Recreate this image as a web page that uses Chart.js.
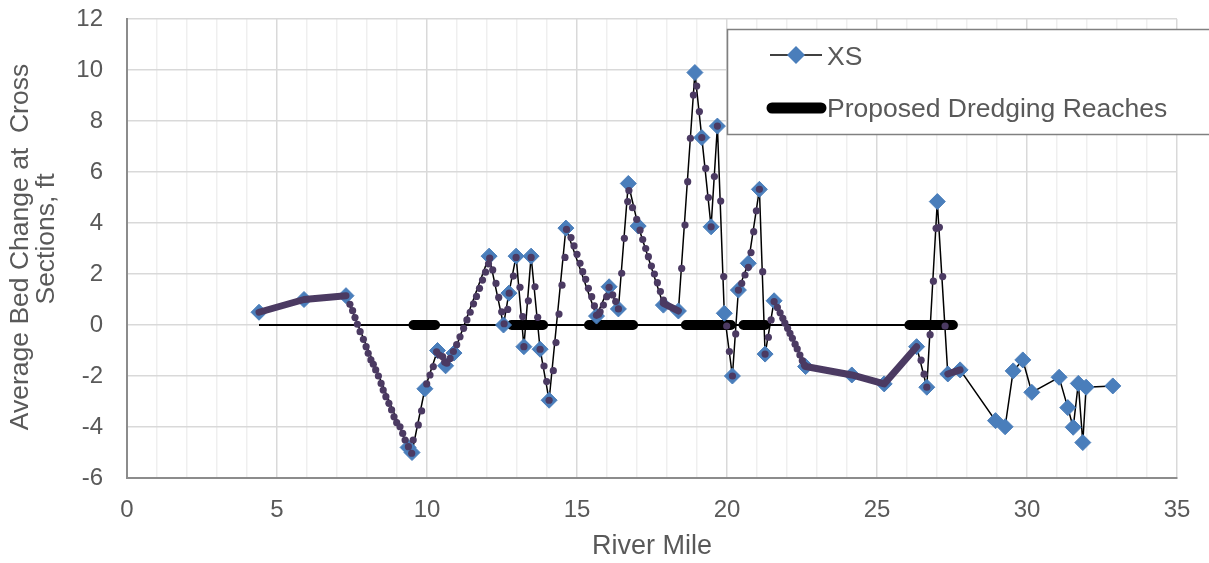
<!DOCTYPE html>
<html>
<head>
<meta charset="utf-8">
<script src="https://cdn.jsdelivr.net/npm/chart.js@4.4.1/dist/chart.umd.min.js"></script>
<style>
  html, body { margin: 0; padding: 0; background: #ffffff; }
  #wrap { width: 1209px; height: 563px; position: relative; }
</style>
</head>
<body>
<div id="wrap"><canvas id="c" width="1209" height="563"></canvas></div>
<script>
// ---- Data ----
const xsMiles = [4.4, 5.9, 7.3, 9.37, 9.5, 9.93, 10.35, 10.62, 10.9, 12.07, 12.55, 12.73, 12.97, 13.23, 13.47, 13.77, 14.07, 14.63, 15.65, 16.07, 16.38, 16.71, 17.04, 17.88, 18.38, 18.93, 19.16, 19.47, 19.68, 19.91, 20.18, 20.38, 20.71, 21.08, 21.27, 21.57, 22.62, 24.16, 25.24, 26.32, 26.66, 27.01, 27.36, 27.77, 28.95, 29.27, 29.54, 29.86, 30.16, 31.07, 31.36, 31.54, 31.71, 31.86, 31.97, 32.86];
const xsValues = [0.5, 1.0, 1.15, -4.8, -5.0, -2.5, -1.0, -1.6, -1.1, 2.7, 0.0, 1.25, 2.7, -0.85, 2.7, -0.95, -2.95, 3.8, 0.35, 1.5, 0.63, 5.55, 3.88, 0.78, 0.55, 9.9, 7.35, 3.85, 7.8, 0.46, -2.0, 1.37, 2.42, 5.32, -1.14, 0.95, -1.63, -1.96, -2.31, -0.85, -2.44, 4.84, -1.92, -1.76, -3.75, -3.99, -1.8, -1.37, -2.64, -2.05, -3.24, -4.01, -2.29, -4.61, -2.44, -2.39];

const dotMiles = [7.43, 7.52, 7.6, 7.68, 7.77, 7.88, 7.97, 8.04, 8.13, 8.21, 8.29, 8.38, 8.47, 8.54, 8.63, 8.73, 8.82, 8.9, 8.99, 9.1, 9.19, 9.27, 9.38, 9.49,
  9.54, 9.71, 9.82, 9.99, 10.1, 10.21, 10.32, 10.41, 10.52, 10.59, 10.66, 10.77, 10.88, 10.99, 11.1, 11.22, 11.33, 11.44, 11.55, 11.65, 11.75, 11.85, 11.95, 12.05, 12.09,
  12.19, 12.3, 12.39, 12.49, 12.57, 12.69, 12.74, 12.88, 12.97, 13.1, 13.19, 13.23, 13.38, 13.47, 13.6, 13.69, 13.77, 13.9, 13.99, 14.07,
  14.21, 14.3, 14.4, 14.5, 14.6, 14.65, 14.8, 14.9, 15.0, 15.1, 15.19, 15.29, 15.38, 15.49, 15.58, 15.65, 15.72, 15.77, 15.88, 15.99, 16.07, 16.19, 16.29, 16.38,
  16.49, 16.58, 16.69, 16.73, 16.85, 16.99, 17.1, 17.19, 17.29, 17.38, 17.48, 17.58, 17.68, 17.78, 17.88,
  18.49, 18.6, 18.69, 18.78, 18.88, 18.99, 19.08, 19.16, 19.29, 19.38, 19.47, 19.58, 19.68, 19.79, 19.89, 19.99, 20.08, 20.18, 20.29, 20.38,
  20.49, 20.6, 20.71, 20.8, 20.89, 20.98, 21.08, 21.19, 21.27, 21.38, 21.47, 21.57, 21.68, 21.77, 21.86, 21.93, 22.02, 22.1, 22.18, 22.27, 22.34, 22.43, 22.51, 22.58,
  26.47, 26.57, 26.66, 26.77, 26.88, 26.97, 27.08, 27.19, 27.27];
const dotValues = [0.81, 0.56, 0.29, 0.03, -0.26, -0.56, -0.85, -1.11, -1.37, -1.54, -1.76, -2.0, -2.29, -2.55, -2.81, -3.07, -3.33, -3.6, -3.83, -3.99, -4.25, -4.51, -4.77, -5.03,
  -4.51, -3.92, -3.37, -2.31, -1.96, -1.63, -1.05, -1.18, -1.24, -1.45, -1.5, -1.31, -1.04, -0.77, -0.46, -0.13, 0.2, 0.5, 0.83, 1.12, 1.44, 1.76, 2.07, 2.4, 2.62,
  2.16, 1.63, 1.08, 0.52, 0.05, 0.61, 1.25, 1.92, 2.65, 1.48, 0.33, -0.85, 0.95, 2.65, 1.5, 0.3, -0.95, -1.61, -2.22, -2.95,
  -1.79, -0.69, 0.43, 1.56, 2.65, 3.75, 3.43, 3.1, 2.77, 2.42, 2.09, 1.79, 1.44, 1.11, 0.75, 0.38, 0.42, 0.52, 0.78, 1.11, 1.48, 1.18, 0.92, 0.63,
  2.03, 3.4, 4.84, 5.27, 4.6, 4.14, 3.72, 3.35, 3.0, 2.68, 2.31, 2.0, 1.66, 1.31, 0.98,
  2.22, 3.92, 5.62, 7.32, 9.02, 9.37, 8.37, 7.35, 6.14, 5.0, 3.85, 5.82, 7.8, 4.86, 1.9, -0.04, -1.04, -2.0, -0.35, 1.37,
  1.63, 1.96, 2.26, 2.84, 3.66, 4.48, 5.32, 2.09, -1.14, -0.48, 0.2, 0.92, 0.69, 0.48, 0.26, 0.07, -0.13, -0.33, -0.52, -0.75, -0.94, -1.18, -1.4, -1.57,
  -1.38, -1.93, -2.44, -0.38, 1.72, 3.79, 3.83, 1.9, -0.04];

// densely sampled stretches (drawn as a continuous thick purple band); null = break
const denseMiles = [4.4, 5.9, 7.3, 7.3, 17.88, 18.38, 18.38, 22.62, 24.16, 25.24, 26.32, 26.32, 27.36, 27.77];
const denseValues = [0.5, 1.0, 1.15, null, 0.85, 0.55, null, -1.63, -1.96, -2.31, -0.85, null, -1.92, -1.76];

const reachStarts = [9.55, 12.82, 15.4, 18.63, 20.55, 26.08];
const reachEnds = [10.27, 13.87, 16.87, 20.13, 21.27, 27.53];

const zeroLineMiles = [4.4, 27.5];
const zeroLineValues = [0, 0];

const xMin = 0, xMax = 35, xStep = 1, xLabelEvery = 5;
const yMin = -6, yMax = 12, yStep = 2;

const xTitle = 'River Mile';
const yTitleLines = ['Average Bed Change at  Cross', 'Sections, ft'];
const seriesNames = ['XS', 'Proposed Dredging Reaches'];

// ---- build datasets ----
const zip = (xs, ys) => xs.map((x, i) => ({ x: x, y: ys[i] }));
const reachData = [];
reachStarts.forEach((s, i) => {
  reachData.push({ x: s, y: 0 }, { x: reachEnds[i], y: 0 }, { x: reachEnds[i], y: null });
});

const FONT = '"Liberation Sans", Arial, sans-serif';
const TEXT = '#595959';
const BLUE = '#4a7ebb';
const PURPLE = '#4b3a62';

const legendPlugin = {
  id: 'boxLegend',
  afterDraw(chart) {
    const ctx = chart.ctx;
    ctx.save();
    ctx.fillStyle = '#ffffff';
    ctx.fillRect(727.5, 29.5, 500, 105);
    ctx.strokeStyle = '#808080';
    ctx.lineWidth = 1.5;
    ctx.strokeRect(727.5, 29.5, 500, 105);
    // XS entry
    ctx.strokeStyle = '#000000';
    ctx.lineWidth = 1.5;
    ctx.beginPath(); ctx.moveTo(770, 55); ctx.lineTo(822, 55); ctx.stroke();
    ctx.fillStyle = BLUE;
    const r = 9;
    ctx.beginPath();
    ctx.moveTo(796 - r, 55); ctx.lineTo(796, 55 - r); ctx.lineTo(796 + r, 55); ctx.lineTo(796, 55 + r);
    ctx.closePath(); ctx.fill();
    // Reaches entry
    ctx.strokeStyle = '#000000';
    ctx.lineWidth = 11;
    ctx.lineCap = 'round';
    ctx.beginPath(); ctx.moveTo(772, 108); ctx.lineTo(821, 108); ctx.stroke();
    ctx.fillStyle = TEXT;
    ctx.font = '26.5px ' + FONT;
    ctx.textBaseline = 'alphabetic';
    ctx.textAlign = 'left';
    ctx.fillText(seriesNames[0], 827, 65);
    ctx.fillText(seriesNames[1], 827, 117);
    ctx.restore();
  }
};

// y-axis title (two rotated lines, placed as in the reference)
const yTitlePlugin = {
  id: 'yTitle',
  afterDraw(chart) {
    const ctx = chart.ctx;
    ctx.save();
    ctx.fillStyle = TEXT;
    ctx.font = '26.5px ' + FONT;
    ctx.textAlign = 'center';
    ctx.textBaseline = 'middle';
    const pos = [[21, 247], [47, 239]];
    yTitleLines.forEach((t, i) => {
      ctx.save();
      ctx.translate(pos[i][0], pos[i][1]);
      ctx.rotate(-Math.PI / 2);
      ctx.fillText(t, 0, 0);
      ctx.restore();
    });
    ctx.restore();
  }
};

const bgPlugin = {
  id: 'bg',
  beforeDraw(chart) {
    const ctx = chart.ctx;
    ctx.save(); ctx.fillStyle = '#ffffff'; ctx.fillRect(0, 0, chart.width, chart.height); ctx.restore();
  }
};

new Chart(document.getElementById('c'), {
  type: 'scatter',
  data: {
    datasets: [
      { label: 'interpolated', data: zip(dotMiles, dotValues), showLine: false, pointRadius: 3.6, pointStyle: 'circle',
        pointBackgroundColor: PURPLE, pointBorderWidth: 0, pointBorderColor: PURPLE },
      { label: 'dense', data: zip(denseMiles, denseValues), showLine: true, borderColor: PURPLE, borderWidth: 7,
        borderCapStyle: 'round', borderJoinStyle: 'round', pointRadius: 0, spanGaps: false },
      { label: seriesNames[0], data: zip(xsMiles, xsValues), showLine: true, borderColor: '#000000', borderWidth: 1.5,
        pointStyle: 'rectRot', pointRadius: 8, pointBackgroundColor: BLUE, pointBorderColor: BLUE, pointBorderWidth: 1 },
      { label: seriesNames[1], data: reachData, showLine: true, borderColor: '#000000', borderWidth: 10,
        borderCapStyle: 'round', pointRadius: 0, spanGaps: false },
      { label: 'zero', data: zip(zeroLineMiles, zeroLineValues), showLine: true, borderColor: '#000000', borderWidth: 2, pointRadius: 0 }
    ]
  },
  options: {
    responsive: false,
    animation: false,
    layout: { padding: { top: 19, right: 32, bottom: 0, left: 0 } },
    plugins: { legend: { display: false }, tooltip: { enabled: false } },
    scales: {
      x: {
        type: 'linear', min: xMin, max: xMax,
        afterFit: (s) => { s.height = 85; },
        ticks: { stepSize: xStep, autoSkip: false, maxRotation: 0, padding: 18, color: TEXT,
          font: { family: FONT, size: 24 },
          callback: (v) => (v % xLabelEvery === 0 ? String(v) : '') },
        grid: { drawTicks: false, lineWidth: 1.5,
          color: (c) => (c.tick && c.tick.value % xLabelEvery === 0 ? '#d9d9d9' : '#efefef') },
        border: { color: '#8c8c8c', width: 2 },
        title: { display: true, text: xTitle, color: TEXT, font: { family: FONT, size: 27, lineHeight: 1.0 },
          padding: { top: 0, bottom: 3 } }
      },
      y: {
        type: 'linear', min: yMin, max: yMax,
        afterFit: (s) => { s.width = 127; s.paddingTop = 0; s.paddingBottom = 0; },
        ticks: { stepSize: yStep, padding: 24, color: TEXT, font: { family: FONT, size: 24 } },
        grid: { drawTicks: false, lineWidth: 1.5, color: '#d9d9d9' },
        border: { color: '#8c8c8c', width: 2 },
        title: { display: false, text: yTitleLines }
      }
    }
  },
  plugins: [bgPlugin, yTitlePlugin, legendPlugin]
});
</script>
</body>
</html>
